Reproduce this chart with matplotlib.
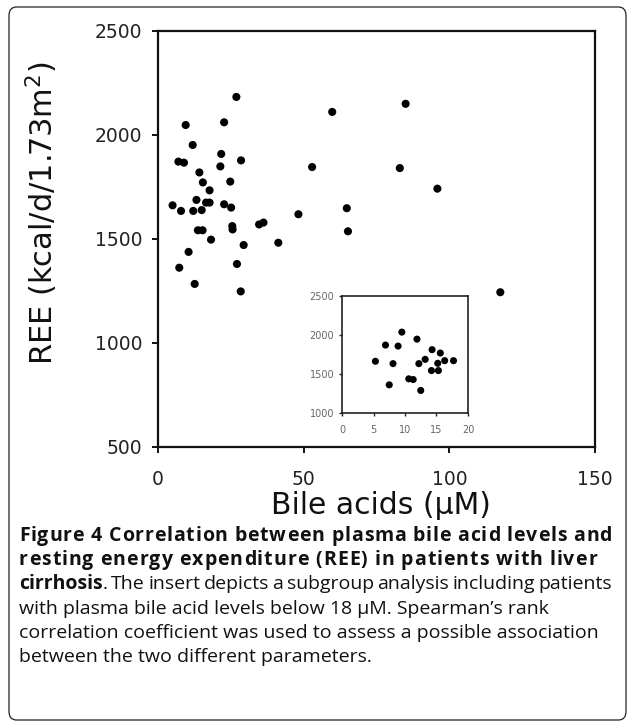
import matplotlib
matplotlib.use("Agg")
import matplotlib.pyplot as plt
from matplotlib.patches import FancyBboxPatch
from matplotlib.font_manager import FontProperties

# ---- data ----
bile_acids = [26.9, 59.8, 9.5, 22.7, 11.9, 21.7, 7.0, 8.9, 28.5, 21.4, 52.9, 14.2,
              15.4, 24.8, 17.7, 5.0, 7.9, 13.2, 12.1, 15.0, 16.5, 17.7, 22.7, 25.1,
              25.5, 25.6, 34.7, 36.2, 48.2, 13.7, 15.3, 18.2, 29.4, 41.3, 10.5, 27.1,
              7.3, 12.6, 28.4, 83.0, 95.9, 64.8, 65.2, 117.5, 85.0]
ree = [2183, 2111, 2048, 2061, 1952, 1909, 1872, 1867, 1878, 1849, 1846, 1820,
       1772, 1776, 1734, 1662, 1635, 1688, 1635, 1639, 1675, 1675, 1667, 1651,
       1562, 1546, 1570, 1579, 1619, 1542, 1542, 1497, 1471, 1482, 1438, 1380,
       1362, 1284, 1248, 1841, 1742, 1648, 1537, 1244, 2150]

sub_bile_acids = [5.3, 6.9, 8.1, 7.5, 8.9, 9.5, 10.6, 11.3, 11.9, 12.2, 12.5, 13.2,
                  14.3, 14.2, 15.2, 15.3, 15.6, 16.3, 17.7]
sub_ree = [1663, 1871, 1633, 1361, 1858, 2037, 1438, 1429, 1947, 1633, 1289, 1688,
           1812, 1544, 1637, 1544, 1769, 1671, 1671]

main_xticks = [0, 50, 100, 150]
main_yticks = [500, 1000, 1500, 2000, 2500]
sub_xticks = [0, 5, 10, 15, 20]
sub_yticks = [1000, 1500, 2000, 2500]

caption_lines = [
    [("Figure 4 Correlation between plasma bile acid levels and", "bold")],
    [("resting energy expenditure (REE) in patients with liver", "bold")],
    [("cirrhosis", "bold"), (". The insert depicts a subgroup analysis including patients", "normal")],
    [("with plasma bile acid levels below 18 \u00b5M. Spearman\u2019s rank", "normal")],
    [("correlation coefficient was used to assess a possible association", "normal")],
    [("between the two different parameters.", "normal")],
]
# right edge (px) each caption line is set to; None = natural width
caption_right = [612, 597, 612, None, None, None]
caption_mode = ["letters", "letters", "words", None, None, None]

W, H = 627, 721
fig = plt.figure(figsize=(W / 100, H / 100), dpi=100)
plt.rcParams['mathtext.fontset'] = 'dejavusans'

# outer rounded frame
frame = FancyBboxPatch((9 / W, 1 - 720 / H), (626 - 9) / W, (720 - 7) / H,
                       boxstyle="round,pad=0,rounding_size=0.012",
                       transform=fig.transFigure, fill=False,
                       edgecolor="#222222", linewidth=0.9, clip_on=False)
fig.patches.append(frame)

# main axes
ax = fig.add_axes([158 / W, 1 - 447 / H, (595 - 158) / W, (447 - 31) / H])
ax.scatter(bile_acids, ree, s=34, color="black", edgecolors="none", zorder=3)
ax.set_xlim(0, 150)
ax.set_ylim(500, 2500)
ax.set_xticks(main_xticks)
ax.set_yticks(main_yticks)
for sp in ax.spines.values():
    sp.set_linewidth(1.6)
    sp.set_color("#111111")
ax.tick_params(axis="both", direction="out", length=4.5, width=1.4, colors="#111111",
               labelsize=13.5, labelcolor="#222222")
ax.tick_params(axis="x", pad=12)
ax.tick_params(axis="y", pad=7)

fig.text(42 / W, 1 - 213 / H, r"REE (kcal/d/1.73m$^{2}$)", rotation=90,
         ha="center", va="center", fontsize=22, color="#111111")
fig.text(381 / W, 1 - 506 / H, "Bile acids (\u00b5M)", ha="center", va="center",
         fontsize=21.5, color="#111111")

# inset axes
ins = fig.add_axes([342 / W, 1 - 413 / H, (468 - 342) / W, (413 - 296) / H])
ins.scatter(sub_bile_acids, sub_ree, s=26, color="black", edgecolors="none", zorder=3)
ins.set_xlim(0, 20)
ins.set_ylim(1000, 2500)
ins.set_xticks(sub_xticks)
ins.set_yticks(sub_yticks)
for sp in ins.spines.values():
    sp.set_linewidth(1.2)
    sp.set_color("#222222")
ins.tick_params(axis="both", direction="out", length=2.5, width=1.0, colors="#222222",
                labelsize=7, labelcolor="#666666")
ins.tick_params(axis="x", pad=6)
ins.tick_params(axis="y", pad=3)

# caption
fig.canvas.draw()
renderer = fig.canvas.get_renderer()
CAP_SIZE = 14
x_left = 19
y0 = 536
dy = 24.2


def tw(s, wt):
    prop = FontProperties(family="Open Sans", weight=wt, size=CAP_SIZE)
    w, h, d = renderer.get_text_width_height_descent(s, prop, ismath=False)
    return w


def space_w(wt):
    return tw("a a", wt) - tw("aa", wt)


for i, parts in enumerate(caption_lines):
    y = 1 - (y0 + i * dy) / H
    mode = caption_mode[i]
    target = caption_right[i]
    if mode == "letters":
        items = []
        for txt, wt in parts:
            sw = space_w(wt)
            for ch in txt:
                items.append((ch, wt, sw if ch == " " else tw(ch, wt)))
        natural = sum(it[2] for it in items)
        extra = (target - x_left - natural) / max(len(items) - 1, 1)
        x = x_left
        for ch, wt, w in items:
            if ch != " ":
                fig.text(x / W, y, ch, ha="left", va="center", fontsize=CAP_SIZE,
                         fontweight=wt, family="Open Sans", color="#111111")
            x += w + extra
    elif mode == "words":
        words = []
        for txt, wt in parts:
            toks = txt.split(" ")
            for k, tok in enumerate(toks):
                if tok == "":
                    continue
                glue = (k == 0 and len(words) > 0 and not txt.startswith(" "))
                words.append([tok, wt, tw(tok, wt), glue])
        n_gaps = sum(1 for k, w in enumerate(words) if k > 0 and not w[3])
        natural = sum(w[2] for w in words)
        gap = (target - x_left - natural) / max(n_gaps, 1)
        x = x_left
        for k, (tok, wt, w, glue) in enumerate(words):
            if k > 0 and not glue:
                x += gap
            fig.text(x / W, y, tok, ha="left", va="center", fontsize=CAP_SIZE,
                     fontweight=wt, family="Open Sans", color="#111111")
            x += w
    else:
        x = x_left
        for txt, wt in parts:
            t = fig.text(x / W, y, txt, ha="left", va="center", fontsize=CAP_SIZE,
                         fontweight=wt, family="Open Sans", color="#111111")
            x += t.get_window_extent(renderer=renderer).width

fig.savefig("out.png", dpi=100)
